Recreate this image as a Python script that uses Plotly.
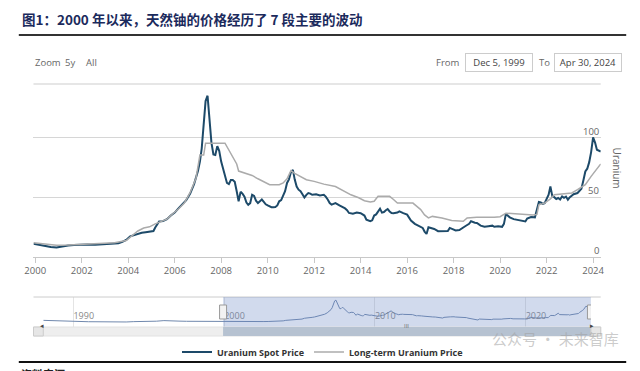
import plotly.graph_objects as go

W, H = 640, 371

# ---------------- data ----------------
spot_dates = ["1999-12-05","2000-03","2000-06","2000-09","2000-12","2001-03","2001-06","2001-09","2001-12",
"2002-04","2002-08","2002-12","2003-04","2003-08","2003-10","2003-12","2004-02","2004-04","2004-06","2004-08",
"2004-10","2004-12","2005-02","2005-03","2005-05","2005-07","2005-09","2005-11","2006-01","2006-03","2006-05",
"2006-07","2006-09","2006-11","2007-01","2007-02","2007-03","2007-04","2007-05","2007-06","2007-07","2007-08",
"2007-09","2007-10","2007-11","2007-12","2008-01","2008-02","2008-03","2008-04","2008-05","2008-06","2008-07",
"2008-08","2008-09","2008-10","2008-11","2008-12","2009-01","2009-02","2009-03","2009-04","2009-05","2009-06",
"2009-07","2009-08","2009-09","2009-10","2009-11","2009-12","2010-01","2010-02","2010-03","2010-04","2010-05",
"2010-06","2010-07","2010-08","2010-09","2010-10","2010-11","2010-12","2011-01","2011-02","2011-03","2011-04",
"2011-05","2011-06","2011-07","2011-08","2011-09","2011-10","2011-11","2011-12","2012-02","2012-04","2012-06",
"2012-07","2012-08","2012-09","2012-10","2012-11","2012-12","2013-02","2013-04","2013-05","2013-06","2013-07",
"2013-09","2013-11","2014-01","2014-02","2014-03","2014-04","2014-05","2014-06","2014-07","2014-08","2014-09",
"2014-10","2014-11","2014-12","2015-01","2015-02","2015-03","2015-04","2015-05","2015-06","2015-08","2015-09",
"2015-10","2015-11","2016-01","2016-02","2016-03","2016-05","2016-07","2016-09","2016-10","2016-11","2016-12",
"2017-01","2017-03","2017-05","2017-07","2017-09","2017-10","2017-11","2017-12","2018-02","2018-04","2018-06",
"2018-07","2018-09","2018-10","2018-12","2019-01","2019-03","2019-05","2019-07","2019-09","2019-10","2019-12",
"2020-02","2020-03","2020-04","2020-05","2020-06","2020-08","2020-10","2020-12","2021-02","2021-03","2021-05",
"2021-07","2021-08","2021-09","2021-10","2021-11","2021-12","2022-01","2022-02","2022-03","2022-04","2022-05",
"2022-06","2022-07","2022-08","2022-09","2022-10","2022-11","2022-12","2023-01","2023-03","2023-05","2023-06",
"2023-07","2023-08","2023-09","2023-10","2023-11","2023-12","2024-01","2024-02","2024-03","2024-04-30"]
spot_values = [10.7,9.8,8.6,8.0,7.6,8.6,9.3,9.6,10.0,
10.2,10.0,10.3,10.6,11.2,12.3,14.0,17.0,18.2,19.0,20.0,
20.5,20.8,21.5,24.5,29.5,29.8,31.5,34.5,37.0,40.5,44.0,
47.5,53.0,61.0,72.0,80.0,91.0,112.0,131.0,135.5,118.0,96.0,
86.0,85.5,93.0,89.0,80.0,73.0,68.0,62.0,61.0,64.5,64.5,
63.0,55.0,46.5,54.5,53.0,50.5,45.5,43.5,45.0,52.0,51.0,
47.0,45.0,46.5,48.0,46.0,44.0,43.0,42.0,41.5,41.5,41.7,
43.0,46.5,47.5,52.0,55.0,62.0,65.0,71.0,73.0,65.0,59.0,
56.3,55.0,52.5,49.8,52.0,53.5,53.0,52.0,52.5,51.5,52.0,
50.5,48.0,45.0,43.7,44.5,45.0,43.0,41.4,40.5,39.0,36.7,
36.0,37.0,36.5,35.5,34.5,31.0,30.0,29.7,30.5,34.5,35.5,
37.5,40.3,37.0,37.5,39.0,40.0,38.0,36.7,36.5,37.0,38.0,
37.0,36.5,35.3,33.0,30.3,27.5,25.5,24.1,21.0,19.0,24.6,
24.0,23.2,21.3,21.3,21.0,21.5,24.1,23.5,22.0,22.3,24.0,
25.5,27.5,29.7,28.5,28.3,26.0,25.0,25.5,26.0,25.0,25.5,
25.0,27.5,35.9,34.0,33.0,31.5,31.0,30.3,29.5,32.0,33.3,
33.0,40.9,46.0,45.5,44.4,45.0,49.3,52.0,59.0,50.7,50.0,
48.5,49.3,48.0,50.7,49.5,50.5,47.9,50.0,52.5,53.5,55.5,
57.0,64.0,71.7,74.0,79.5,88.0,100.3,96.0,90.0,88.5]

lt_dates = ["1999-12-05","2000-06","2000-12","2001-06","2001-12","2002-06","2002-12","2003-06","2003-12",
"2004-03","2004-06","2004-09","2004-12","2005-03","2005-06","2005-09","2005-12","2006-03","2006-06","2006-09",
"2006-12","2007-01","2007-02","2007-04","2007-05","2008-03","2008-05","2008-07","2008-09","2008-10","2009-02",
"2009-05","2009-08","2009-11","2010-02","2010-07","2010-09","2010-11","2011-01","2011-03","2011-06","2011-09",
"2012-01","2012-06","2012-12","2013-03","2013-08","2013-12","2014-03","2014-06","2014-08","2014-10","2015-04",
"2015-06","2015-08","2016-04","2016-06","2016-08","2016-10","2016-12","2017-02","2017-07","2017-12","2018-06",
"2018-08","2019-01","2019-10","2020-01","2020-04","2020-12","2021-06","2021-08","2021-09","2021-12","2022-03",
"2022-05","2022-12","2023-02","2023-05","2023-09","2023-12","2024-02","2024-04-30"]
lt_values = [11.5,10.3,9.5,9.7,10.3,10.8,11.0,11.5,13.5,
17.5,21.5,24.0,25.0,27.5,29.5,31.5,36.0,40.0,45.0,54.0,
66.0,75.0,85.5,85.5,95.5,95.5,90.0,84.0,78.0,72.0,70.0,
68.3,65.5,63.3,60.5,60.5,62.0,65.5,72.3,70.0,67.0,64.7,
63.3,61.0,59.0,56.3,52.0,49.5,47.0,46.0,46.5,50.7,50.7,
48.0,45.0,45.0,42.5,39.5,35.0,32.5,33.8,32.5,30.3,29.7,
32.5,33.0,33.0,33.5,36.5,35.5,35.0,35.5,43.5,45.0,48.5,
52.0,53.0,53.5,56.3,60.5,67.5,72.0,78.0]

# navigator history before the selected window (spot price)
nav_pre_dates = ["1988-01","1988-07","1989-01","1989-07","1990-01","1990-07","1991-01","1991-07","1992-01",
"1992-07","1993-01","1993-07","1994-01","1994-07","1995-01","1995-07","1996-01","1996-07","1997-01","1997-07",
"1998-01","1998-07","1999-01","1999-07"]
nav_pre_values = [17.0,15.5,12.0,10.0,9.5,10.0,9.0,8.8,8.0,
7.8,9.0,7.5,9.5,9.5,11.5,12.0,15.5,16.0,12.5,11.5,
11.0,10.0,11.0,10.5]

tick_years = [2000,2002,2004,2006,2008,2010,2012,2014,2016,2018,2020,2022,2024]
nav_tick_years = [1990,2000,2010,2020]
y_ticks = [0,50,100]
range_start, range_end = "1999-12-05", "2024-04-30"
nav_start = "1988-01-01"

title_text = "图1：2000 年以来，天然铀的价格经历了 7 段主要的波动"
series_names = ["Uranium Spot Price", "Long-term Uranium Price"]

# ---------------- helpers ----------------
def px_x(x): return x / W
def px_y(y): return (H - y) / H

SPOT_C = "#1d4a69"
LT_C = "#ababab"
FONT = "Open Sans"

fig = go.Figure()
fig.add_trace(go.Scatter(x=spot_dates, y=spot_values, name=series_names[0], mode="lines",
                         line=dict(color=SPOT_C, width=2), xaxis="x", yaxis="y"))
fig.add_trace(go.Scatter(x=lt_dates, y=lt_values, name=series_names[1], mode="lines",
                         line=dict(color=LT_C, width=1.5), xaxis="x", yaxis="y"))
fig.add_trace(go.Scatter(x=nav_pre_dates + spot_dates, y=nav_pre_values + spot_values, mode="lines",
                         line=dict(color="#7088ad", width=1), showlegend=False, hoverinfo="skip",
                         xaxis="x2", yaxis="y2"))

shapes = []
# title underline & bottom rule
shapes.append(dict(type="line", xref="paper", yref="paper", x0=px_x(10), x1=px_x(630), y0=px_y(35), y1=px_y(35),
                   line=dict(color="#333333", width=2)))
shapes.append(dict(type="line", xref="paper", yref="paper", x0=px_x(10), x1=px_x(630), y0=px_y(362), y1=px_y(362),
                   line=dict(color="#111111", width=2)))
# faint line under range selector
shapes.append(dict(type="line", xref="paper", yref="paper", x0=px_x(25), x1=px_x(604), y0=px_y(84), y1=px_y(84),
                   line=dict(color="#e6e6e6", width=2)))
# navigator outline top
shapes.append(dict(type="line", xref="paper", yref="paper", x0=px_x(25), x1=px_x(604), y0=px_y(297), y1=px_y(297),
                   line=dict(color="#cccccc", width=1)))
# navigator mask for selected range
shapes.append(dict(type="rect", xref="x2", yref="paper", x0=range_start, x1=range_end, y0=px_y(327), y1=px_y(297),
                   fillcolor="rgba(102,133,194,0.3)", line=dict(width=0), layer="above"))
# scrollbar track
shapes.append(dict(type="rect", xref="paper", yref="paper", x0=px_x(25), x1=px_x(604), y0=px_y(336), y1=px_y(327),
                   fillcolor="#eeeeee", line=dict(color="#e2e2e2", width=1)))
# scrollbar thumb
shapes.append(dict(type="rect", xref="x2", yref="paper", x0=range_start, x1=range_end, y0=px_y(336), y1=px_y(327),
                   fillcolor="#b6c2d1", line=dict(width=0)))
# scrollbar buttons
for a, b in [(25, 35), (594, 604)]:
    shapes.append(dict(type="rect", xref="paper", yref="paper", x0=px_x(a), x1=px_x(b), y0=px_y(336), y1=px_y(327),
                       fillcolor="#e6e6e6", line=dict(color="#cccccc", width=1)))
# navigator handles
for d in [range_start, range_end]:
    shapes.append(dict(type="rect", xref="x2", yref="paper", xsizemode="pixel", xanchor=d, x0=-3.5, x1=3.5,
                       y0=px_y(319), y1=px_y(305), fillcolor="#f2f2f2", line=dict(color="#999999", width=1),
                       layer="above"))

annotations = []
annotations.append(dict(text="<b>" + title_text + "</b>", x=px_x(11), y=px_y(19), xref="paper", yref="paper",
                        xanchor="left", yanchor="middle", showarrow=False,
                        font=dict(family="Noto Sans CJK SC", size=13.5, color="#1b2a5c")))
# range selector
for t, x in [("Zoom", 25), ("5y", 55), ("All", 77)]:
    annotations.append(dict(text=t, x=px_x(x), y=px_y(62), xref="paper", yref="paper", xanchor="left",
                            yanchor="middle", showarrow=False, font=dict(family=FONT, size=9.5, color="#666666")))
annotations.append(dict(text="From", x=px_x(462), y=px_y(62), xref="paper", yref="paper", xanchor="right",
                        yanchor="middle", showarrow=False, font=dict(family=FONT, size=9.5, color="#666666")))
annotations.append(dict(text="To", x=px_x(547), y=px_y(62), xref="paper", yref="paper", xanchor="center",
                        yanchor="middle", showarrow=False, font=dict(family=FONT, size=9.5, color="#666666")))
for t, cx, w in [("Dec 5, 1999", 500.5, 64), ("Apr 30, 2024", 591, 64)]:
    annotations.append(dict(text=t, x=px_x(cx), y=px_y(62), xref="paper", yref="paper", xanchor="center",
                            yanchor="middle", showarrow=False, width=w, height=15, bordercolor="#cccccc",
                            borderwidth=1, borderpad=1, bgcolor="white",
                            font=dict(family=FONT, size=9.5, color="#444444")))
# y tick labels: right-aligned inside the plot, just above each gridline
for v in y_ticks:
    annotations.append(dict(text=str(v), x=px_x(604), y=v, xref="paper", yref="y", xanchor="right",
                            yanchor="bottom", yshift=-2, showarrow=False,
                            font=dict(family=FONT, size=9.5, color="#666666")))
# y axis title
annotations.append(dict(text="Uranium", x=px_x(621), y=px_y(168), xref="paper", yref="paper", textangle=90,
                        xanchor="center", yanchor="middle", showarrow=False,
                        font=dict(family=FONT, size=10, color="#666666")))
# scrollbar glyphs
annotations.append(dict(text="◂", x=px_x(30), y=px_y(331.5), xref="paper", yref="paper", showarrow=False,
                        font=dict(size=7, color="#444444")))
annotations.append(dict(text="▸", x=px_x(599), y=px_y(331.5), xref="paper", yref="paper", showarrow=False,
                        font=dict(size=7, color="#444444")))
annotations.append(dict(text="III", x=px_x(406), y=px_y(331.5), xref="paper", yref="paper", showarrow=False,
                        font=dict(family=FONT, size=6, color="#666666")))
# watermark
annotations.append(dict(text="公众号 · 未来智库", x=px_x(625), y=px_y(351), xref="paper", yref="paper",
                        xanchor="right", showarrow=False,
                        font=dict(family="Noto Sans CJK SC", size=15, color="rgba(160,160,160,0.55)")))
# source line (cut off at bottom, as in the original)
annotations.append(dict(text="<b>资料来源：</b>", x=px_x(10), y=px_y(364), xref="paper", yref="paper",
                        xanchor="left", yanchor="top", showarrow=False,
                        font=dict(family="Noto Sans CJK SC", size=11, color="#222222")))

fig.update_layout(
    width=W, height=H, margin=dict(l=0, r=0, t=0, b=0),
    paper_bgcolor="white", plot_bgcolor="white",
    showlegend=True,
    legend=dict(orientation="h", x=0.5, xanchor="center", y=px_y(352), yanchor="middle",
                font=dict(family=FONT, size=9, color="#333333", weight="bold"), itemwidth=30,
                bgcolor="rgba(0,0,0,0)"),
    xaxis=dict(domain=[px_x(25), px_x(604)], range=[range_start, range_end], type="date", anchor="y",
               tickvals=[f"{y}-01-01" for y in tick_years], ticktext=[str(y) for y in tick_years],
               showgrid=False, showline=True, linecolor="#c8c8c8", linewidth=1, ticks="outside", ticklen=5,
               tickcolor="#c8c8c8", tickfont=dict(family=FONT, size=9.5, color="#666666"), zeroline=False),
    yaxis=dict(domain=[px_y(256.5), px_y(88)], range=[0, 142], anchor="x", side="right",
               tickvals=y_ticks, showticklabels=False, showgrid=True, gridcolor="#d6d6d6", gridwidth=1,
               zeroline=False, showline=False),
    xaxis2=dict(domain=[px_x(35), px_x(594)], range=[nav_start, range_end], type="date", anchor="y2",
                tickvals=[f"{y}-01-01" for y in nav_tick_years], ticktext=[str(y) for y in nav_tick_years],
                ticklabelposition="inside right", showgrid=True, gridcolor="#e4e4e4", ticks="", showline=False,
                zeroline=False, tickfont=dict(family=FONT, size=9, color="#888888")),
    yaxis2=dict(domain=[px_y(327), px_y(297)], range=[-22, 154], anchor="x2", visible=False),
    shapes=shapes, annotations=annotations,
)

fig.write_html("out.html", config={"displayModeBar": False},
               post_script="document.body.style.margin='0px';document.body.style.overflow='hidden';")
